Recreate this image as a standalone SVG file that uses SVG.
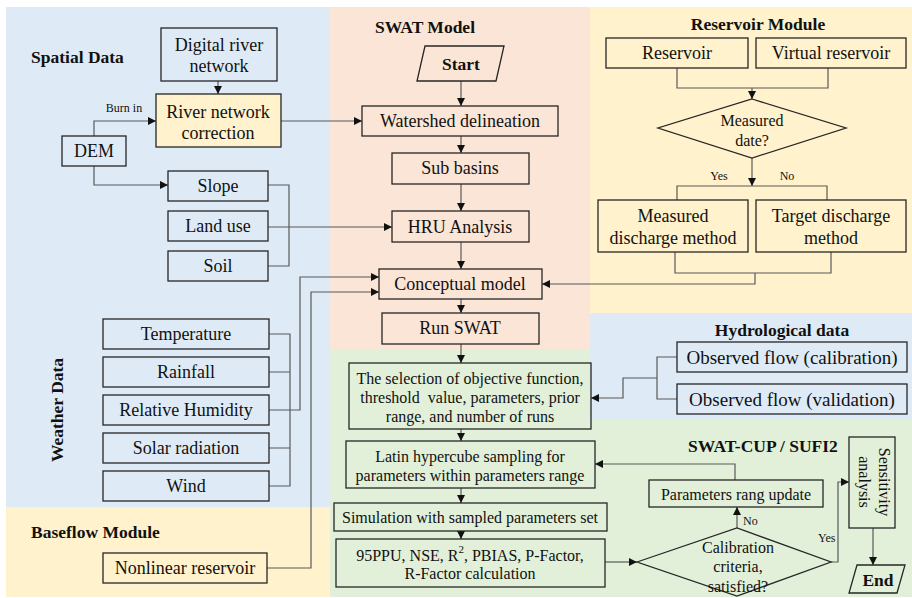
<svg xmlns="http://www.w3.org/2000/svg" width="912" height="598" viewBox="0 0 912 598">
<defs>
<style>
text{font-family:"Liberation Serif","Times New Roman",serif;fill:#111;dominant-baseline:central;text-anchor:middle}
.t{font-size:18px}
.s{font-size:16px}
.xs{font-size:12px}
.h{font-size:17.5px;font-weight:bold}
.l{text-anchor:start}
.b{fill:none;stroke:#262626;stroke-width:1.3}
.y{fill:#FFF2CC;stroke:#262626;stroke-width:1.3}
#connectors path{fill:none;stroke:#595959;stroke-width:1.2}
.a{marker-end:url(#arr)}
</style>
<marker id="arr" markerUnits="userSpaceOnUse" markerWidth="9" markerHeight="8" refX="8" refY="4" orient="auto">
<path d="M0,0 L8,4 L0,8 Z" fill="#111"/>
</marker>
</defs>

<g id="backgrounds">
<rect x="6" y="7" width="324" height="500" fill="#DEEBF7"/>
<rect x="6" y="507" width="324" height="90" fill="#FFF2CC"/>
<rect x="330" y="7" width="260" height="342" fill="#FBE5D6"/>
<rect x="590" y="7" width="322" height="306" fill="#FFF2CC"/>
<rect x="590" y="313" width="322" height="107" fill="#DEEBF7"/>
<rect x="330" y="349" width="260" height="248" fill="#E2F0D9"/>
<rect x="590" y="420" width="322" height="177" fill="#E2F0D9"/>
</g>

<g id="section-labels">
<text class="h l" x="31" y="57">Spatial Data</text>
<text class="h l" x="375" y="27">SWAT Model</text>
<text class="h" x="758" y="24">Reservoir Module</text>
<text class="h" x="782" y="330">Hydrological data</text>
<text class="h" x="763" y="446">SWAT-CUP / SUFI2</text>
<text class="h" transform="translate(57,410) rotate(-90)" x="0" y="0">Weather Data</text>
<text class="h l" x="31" y="532">Baseflow Module</text>
</g>

<g id="connectors">
<path class="a" d="M218,81 V94"/>
<path class="a" d="M94,136 V121 H156"/>
<path class="a" d="M94,166 V185 H168"/>
<path class="a" d="M281,121 H362"/>
<path d="M268,185 H289 V266 H268"/>
<path class="a" d="M268,227 H392"/>
<path class="a" d="M461,81 V106"/>
<path class="a" d="M461,136 V153"/>
<path class="a" d="M461,184 V211"/>
<path class="a" d="M461,242 V269"/>
<path class="a" d="M461,299 V313"/>
<path class="a" d="M461,344 V363"/>
<path class="a" d="M461,429 V441"/>
<path class="a" d="M461,488 V503"/>
<path class="a" d="M461,531 V539"/>
<path d="M269,334 H290 V486 H269 M269,372 H290 M269,448 H290"/>
<path class="a" d="M269,410 H300 V277 H379"/>
<path class="a" d="M267,568 H311 V292 H379"/>
<path d="M677,68 V88 H828 V68"/>
<path class="a" d="M752,88 V99"/>
<path class="a" d="M752,158 V186"/>
<path d="M677,200 V186 H827 V200"/>
<path d="M675,252 V273 H831 V252"/>
<path class="a" d="M755,273 V284 H542"/>
<path d="M677,357 H657 V399 H677"/>
<path class="a" d="M657,378 H623 V398 H591"/>
<path class="a" d="M605,562 H637"/>
<path class="a" d="M737,528 V507"/>
<path class="a" d="M735,480 V464 H595"/>
<path class="a" d="M831,562 H838 V482 H849"/>
<path class="a" d="M873,528 V565"/>
<text class="xs" x="124" y="108">Burn in</text>
<text class="xs" x="719" y="176">Yes</text>
<text class="xs" x="787" y="176">No</text>
<text class="xs l" x="743" y="521">No</text>
<text class="xs l" x="818" y="538">Yes</text>
</g>

<g id="digital-river-network"><rect class="b" x="161" y="28" width="116" height="53"/><text class="t" x="219" y="45">Digital river</text><text class="t" x="219" y="66">network</text></g>
<g id="river-network-correction"><rect class="y" x="156" y="94" width="125" height="53"/><text class="t" x="218" y="112">River network</text><text class="t" x="218" y="133">correction</text></g>
<g id="dem"><rect class="b" x="62" y="136" width="64" height="30"/><text class="t" x="94" y="151">DEM</text></g>
<g id="slope"><rect class="b" x="168" y="171" width="100" height="30"/><text class="t" x="218" y="186">Slope</text></g>
<g id="land-use"><rect class="b" x="168" y="211" width="100" height="30"/><text class="t" x="218" y="226">Land use</text></g>
<g id="soil"><rect class="b" x="168" y="251" width="100" height="30"/><text class="t" x="218" y="266">Soil</text></g>

<g id="start"><polygon class="b" points="425,46 504,46 496,81 417,81"/><text class="h" x="461" y="64">Start</text></g>
<g id="watershed-delineation"><rect class="b" x="362" y="106" width="196" height="30"/><text class="t" x="460" y="121">Watershed delineation</text></g>
<g id="sub-basins"><rect class="b" x="392" y="153" width="137" height="31"/><text class="t" x="460" y="168">Sub basins</text></g>
<g id="hru-analysis"><rect class="b" x="392" y="211" width="137" height="31"/><text class="t" x="460" y="227">HRU Analysis</text></g>
<g id="conceptual-model"><rect class="b" x="379" y="269" width="163" height="30"/><text class="t" x="460" y="284">Conceptual model</text></g>
<g id="run-swat"><rect class="b" x="382" y="313" width="157" height="31"/><text class="t" x="460" y="328">Run SWAT</text></g>

<g id="reservoir"><rect class="b" x="606" y="38" width="142" height="30"/><text class="t" x="677" y="53">Reservoir</text></g>
<g id="virtual-reservoir"><rect class="b" x="756" y="38" width="150" height="30"/><text class="t" x="831" y="53">Virtual reservoir</text></g>
<g id="measured-date"><polygon class="b" points="752,99 846,128 752,158 658,128"/><text class="s" x="752" y="120">Measured</text><text class="s" x="752" y="140">date?</text></g>
<g id="measured-discharge"><rect class="b" x="598" y="200" width="150" height="52"/><text class="t" x="673" y="216">Measured</text><text class="t" x="673" y="238">discharge method</text></g>
<g id="target-discharge"><rect class="b" x="756" y="200" width="150" height="52"/><text class="t" x="831" y="216">Target discharge</text><text class="t" x="831" y="238">method</text></g>

<g id="temperature"><rect class="b" x="103" y="319" width="166" height="30"/><text class="t" x="186" y="334">Temperature</text></g>
<g id="rainfall"><rect class="b" x="103" y="357" width="166" height="30"/><text class="t" x="186" y="372">Rainfall</text></g>
<g id="relative-humidity"><rect class="b" x="103" y="395" width="166" height="30"/><text class="t" x="186" y="410">Relative Humidity</text></g>
<g id="solar-radiation"><rect class="b" x="103" y="433" width="166" height="30"/><text class="t" x="186" y="448">Solar radiation</text></g>
<g id="wind"><rect class="b" x="103" y="471" width="166" height="30"/><text class="t" x="186" y="486">Wind</text></g>
<g id="nonlinear-reservoir"><rect class="b" x="103" y="553" width="164" height="30"/><text class="t" x="185" y="568">Nonlinear reservoir</text></g>

<g id="observed-calibration"><rect class="b" x="677" y="342" width="230" height="30"/><text class="t" x="792" y="357" style="font-size:19px">Observed flow (calibration)</text></g>
<g id="observed-validation"><rect class="b" x="677" y="384" width="230" height="30"/><text class="t" x="792" y="399" style="font-size:19px">Observed flow (validation)</text></g>

<g id="objective-selection"><rect class="b" x="349" y="363" width="242" height="66"/><text class="s" x="470" y="378">The selection of objective function,</text><text class="s" x="470" y="397" xml:space="preserve">threshold  value, parameters, prior</text><text class="s" x="470" y="416">range, and number of runs</text></g>
<g id="latin-hypercube"><rect class="b" x="346" y="441" width="249" height="47"/><text class="s" x="470" y="456">Latin hypercube sampling for</text><text class="s" x="470" y="475">parameters within parameters range</text></g>
<g id="simulation"><rect class="b" x="334" y="503" width="273" height="28"/><text class="s" x="470" y="517">Simulation with sampled parameters set</text></g>
<g id="metrics"><rect class="b" x="336" y="539" width="269" height="48"/><text class="s" x="470" y="555">95PPU, NSE, R<tspan style="font-size:11px" dy="-6">2</tspan><tspan dy="6">, PBIAS, P-Factor,</tspan></text><text class="s" x="470" y="573">R-Factor calculation</text></g>
<g id="parameters-update"><rect class="b" x="649" y="480" width="174" height="27"/><text class="s" x="736" y="494">Parameters rang update</text></g>
<g id="calibration-criteria"><polygon class="b" points="637,562 737,528 831,562 737,596"/><text class="s" x="738" y="547">Calibration</text><text class="s" x="738" y="566">criteria,</text><text class="s" x="738" y="586">satisfied?</text></g>
<g id="sensitivity-analysis"><rect class="b" x="849" y="437" width="46" height="91"/><text class="s" transform="translate(884,482) rotate(90)">Sensitivity</text><text class="s" transform="translate(864,482) rotate(90)">analysis</text></g>
<g id="end"><polygon class="b" points="857,565 905,565 897,593 849,593"/><text class="h" x="878" y="580">End</text></g>
</svg>
